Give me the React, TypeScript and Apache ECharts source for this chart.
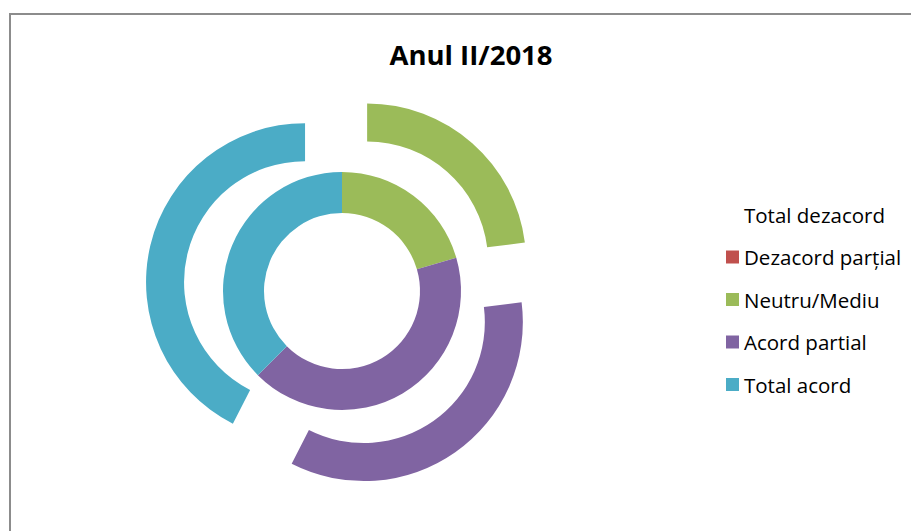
import React, { useEffect, useRef } from "react";
import * as echarts from "echarts";

const categories = ["Total dezacord", "Dezacord parțial", "Neutru/Mediu", "Acord partial", "Total acord"];
const colors = ["rgba(0,0,0,0)", "#C0504D", "#9BBB59", "#8064A2", "#4BACC6"];
const innerValues = [0, 0, 20.5, 42, 37.5];
const outerValues = [0, 0, 23, 34.5, 42.5];
const title = "Anul II/2018";

export default function App() {
  const ref = useRef<HTMLDivElement>(null);
  useEffect(() => {
    const chart = echarts.init(ref.current!, null, { renderer: "svg" });
    const mk = (vals: number[], selected: boolean) =>
      vals.map((v, i) => ({
        name: categories[i],
        value: v,
        selected: selected && v > 0,
        itemStyle: { color: colors[i] },
      }));
    chart.setOption({
      animation: false,
      backgroundColor: "#fff",
      title: {
        text: title,
        left: 458,
        top: 27,
        textAlign: "center",
        textStyle: { fontFamily: "Open Sans", fontWeight: "bold", fontSize: 27.5, color: "#000" },
      },
      legend: {
        orient: "vertical",
        left: 713,
        top: 188,
        itemWidth: 13,
        itemHeight: 13,
        itemGap: 15.5,
        icon: "rect",
        selectedMode: false,
        data: categories.map((c, i) =>
          i === 0 ? { name: c, itemStyle: { opacity: 0 } } : { name: c }
        ),
        textStyle: { fontFamily: "Open Sans", fontSize: 20.5, color: "#000", lineHeight: 27 },
      },
      series: [
        {
          type: "pie",
          center: [334, 283],
          radius: [78, 119],
          startAngle: 90,
          clockwise: true,
          label: { show: false },
          labelLine: { show: false },
          emphasis: { disabled: true },
          selectedMode: false,
          data: mk(innerValues, false),
        },
        {
          type: "pie",
          center: [334, 283],
          radius: [121, 159],
          startAngle: 90,
          clockwise: true,
          label: { show: false },
          labelLine: { show: false },
          emphasis: { disabled: true },
          selectedMode: "multiple",
          selectedOffset: 38,
          select: { itemStyle: {} },
          data: mk(outerValues, true),
        },
      ],
      graphic: [
        {
          type: "rect",
          shape: { x: 2, y: 6, width: 1000, height: 600 },
          style: { fill: "none", stroke: "#8c8c8c", lineWidth: 2 },
          silent: true,
        },
      ],
    });
    return () => chart.dispose();
  }, []);
  return <div ref={ref} style={{ width: 911, height: 523 }} />;
}
